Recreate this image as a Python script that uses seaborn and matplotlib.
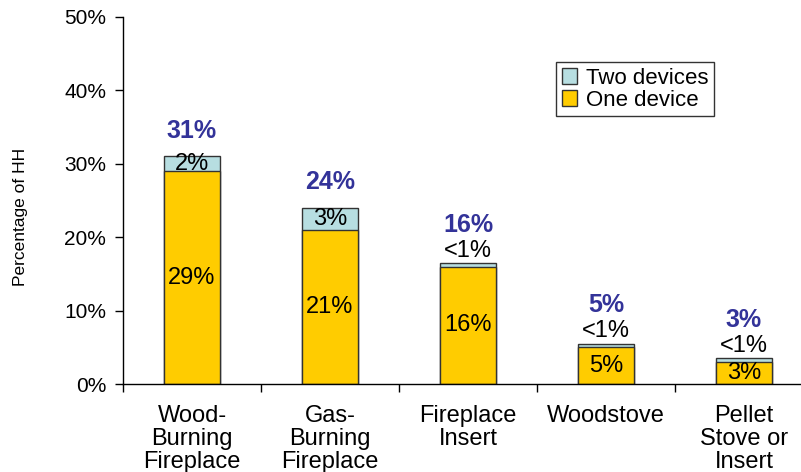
import pandas as pd
import seaborn as sns
import matplotlib.pyplot as plt
from matplotlib.patches import Patch
from matplotlib.ticker import FuncFormatter

categories = ["Wood-\nBurning\nFireplace", "Gas-\nBurning\nFireplace",
              "Fireplace\nInsert", "Woodstove", "Pellet\nStove or\nInsert"]
one_device = [29, 21, 16, 5, 3]
two_devices = [2, 3, 0.5, 0.5, 0.5]
two_labels = ["2%", "3%", "<1%", "<1%", "<1%"]
one_labels = ["29%", "21%", "16%", "5%", "3%"]
total_labels = ["31%", "24%", "16%", "5%", "3%"]

yellow = "#FFCC00"
blue = "#B7DEE1"
navy = "#333399"

df = pd.DataFrame({"device": categories, "one": one_device, "two": two_devices})
df["total"] = df.one + df.two

sns.set_theme(style="white")
plt.rcParams["font.family"] = ["Liberation Sans", "DejaVu Sans"]
plt.rcParams.update({"text.color": "black", "axes.labelcolor": "black",
                     "xtick.color": "black", "ytick.color": "black"})

fig = plt.figure(figsize=(8.01, 4.72), dpi=100)
ax = fig.add_axes([0.1536, 0.1864, 0.8614, 0.7776])

# stacked bars: full height in blue, bottom part in yellow on top
sns.barplot(data=df, x="device", y="total", color=blue, width=0.41, saturation=1,
            edgecolor="#333333", linewidth=1, ax=ax)
sns.barplot(data=df, x="device", y="one", color=yellow, width=0.41, saturation=1,
            edgecolor="#333333", linewidth=1, ax=ax)

for i, row in df.iterrows():
    ax.text(i, row.one / 2, one_labels[i], ha="center", va="center", fontsize=17, color="black")
    if row.two >= 1:
        ax.text(i, row.one + row.two / 2, two_labels[i], ha="center", va="center",
                fontsize=17, color="black")
        ax.annotate(total_labels[i], (i, row.total), xytext=(0, 10), textcoords="offset points",
                    ha="center", va="bottom", fontsize=18, fontweight="bold", color=navy)
    else:
        ax.annotate(two_labels[i], (i, row.total), xytext=(0, 1), textcoords="offset points",
                    ha="center", va="bottom", fontsize=17, color="black")
        ax.annotate(total_labels[i], (i, row.total), xytext=(0, 19), textcoords="offset points",
                    ha="center", va="bottom", fontsize=18, fontweight="bold", color=navy)

ax.set_ylim(0, 50)
ax.set_xlim(-0.5, 4.5)
ax.set_yticks(range(0, 51, 10))
ax.yaxis.set_major_formatter(FuncFormatter(lambda v, p: f"{v:.0f}%"))
ax.tick_params(axis="y", which="major", direction="out", length=6, width=1,
               color="black", labelcolor="black", labelsize=15, left=True, pad=6)

# category labels at bar centres, tick marks between categories
ax.set_xticks([i - 0.5 for i in range(len(categories) + 1)], minor=True)
ax.tick_params(axis="x", which="minor", direction="out", length=6, width=1,
               color="black", bottom=True)
ax.tick_params(axis="x", which="major", length=0, labelsize=17, labelcolor="black", pad=15)
for lab in ax.get_xticklabels():
    lab.set_linespacing(1.05)

sns.despine(ax=ax, top=True, right=True)
for s in ["left", "bottom"]:
    ax.spines[s].set_color("black")
    ax.spines[s].set_linewidth(1)

ax.set_xlabel("")
ax.set_ylabel("Percentage of HH", fontsize=12.5, color="black")
ax.yaxis.set_label_coords(-0.138, 0.455)

handles = [Patch(facecolor=blue, edgecolor="#333333", label="Two devices"),
           Patch(facecolor=yellow, edgecolor="#333333", label="One device")]
leg = ax.legend(handles=handles, loc="upper left", bbox_to_anchor=(0.6275, 0.877),
                borderaxespad=0, fontsize=16, frameon=True, fancybox=False,
                handlelength=0.7, handleheight=0.7, handletextpad=0.4,
                borderpad=0.25, labelspacing=0.05)
leg.get_frame().set_edgecolor("black")
leg.get_frame().set_linewidth(1)
for t in leg.get_texts():
    t.set_color("black")

fig.savefig("out.png", dpi=100)
